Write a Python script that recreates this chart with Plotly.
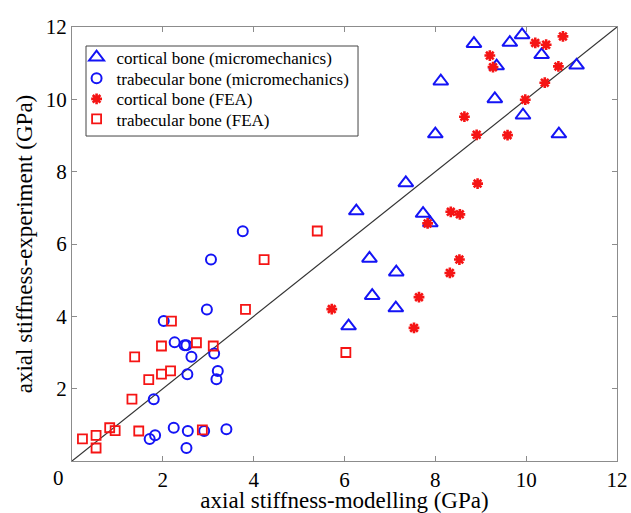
import plotly.graph_objects as go

# cortical bone (micromechanics)
cort_mm_x = [7.35, 6.26, 7.73, 7.89, 6.55, 7.14, 6.61, 7.13, 6.09,
             9.91, 8.85, 9.64, 10.34, 9.35, 11.11, 8.12, 9.31, 9.93, 8.00, 10.72]
cort_mm_y = [7.69, 6.91, 6.84, 6.58, 5.60, 5.22, 4.57, 4.23, 3.73,
             11.78, 11.54, 11.57, 11.23, 10.92, 10.94, 10.50, 10.01, 9.56, 9.04, 9.04]

# trabecular bone (micromechanics)
trab_mm_x = [2.97, 2.02, 2.26, 2.48, 2.52, 2.63, 3.13, 3.21, 3.18, 2.54,
             1.80, 2.24, 2.55, 2.91, 3.40, 1.83, 1.71, 2.52, 3.76, 3.06]
trab_mm_y = [4.19, 3.87, 3.28, 3.20, 3.20, 2.88, 2.97, 2.49, 2.26, 2.40,
             1.71, 0.92, 0.83, 0.83, 0.88, 0.71, 0.61, 0.36, 6.35, 5.57]

# cortical bone (FEA)
cort_fea_x = [8.93, 8.34, 8.54, 7.83, 8.53, 8.32, 7.64, 5.72, 7.53,
              10.81, 10.20, 10.44, 9.20, 9.27, 10.71, 10.41, 9.98, 8.64, 8.91, 9.59]
cort_fea_y = [7.67, 6.89, 6.82, 6.57, 5.57, 5.20, 4.53, 4.20, 3.68,
              11.74, 11.56, 11.51, 11.21, 10.89, 10.91, 10.46, 9.99, 9.52, 9.02, 9.01]

# trabecular bone (FEA)
trab_fea_x = [3.82, 2.19, 1.97, 2.74, 3.11, 1.38, 2.17, 1.97, 1.69, 1.32,
              0.83, 0.95, 0.53, 0.23, 0.53, 1.47, 2.87, 5.40, 4.23, 6.03]
trab_fea_y = [4.19, 3.87, 3.18, 3.27, 3.18, 2.88, 2.49, 2.40, 2.25, 1.71,
              0.92, 0.84, 0.71, 0.61, 0.36, 0.83, 0.86, 6.36, 5.57, 3.00]

line_xy = [0, 12]
x_ticks = [0, 2, 4, 6, 8, 10, 12]
x_tick_labels = ["", "2", "4", "6", "8", "10", "12"]
origin_label = "0"
y_ticks = [2, 4, 6, 8, 10, 12]
y_tick_labels = ["2", "4", "6", "8", "10", "12"]

BLUE = "#1414f5"
RED = "#f51414"
FONT = "Liberation Serif"

fig = go.Figure()
fig.add_trace(go.Scatter(x=line_xy, y=line_xy, mode="lines",
                         line=dict(color="#333333", width=1.2),
                         showlegend=False, hoverinfo="skip"))
fig.add_trace(go.Scatter(x=cort_mm_x, y=cort_mm_y, mode="markers",
                         name="cortical bone (micromechanics)", legend="legend",
                         marker=dict(symbol="triangle-up-open", size=13,
                                     color=BLUE, line=dict(width=2, color=BLUE))))
fig.add_trace(go.Scatter(x=trab_mm_x, y=trab_mm_y, mode="markers",
                         name="trabecular bone (micromechanics)", legend="legend2",
                         marker=dict(symbol="circle-open", size=10,
                                     color=BLUE, line=dict(width=2, color=BLUE))))
fig.add_trace(go.Scatter(x=cort_fea_x, y=cort_fea_y, mode="markers",
                         name="cortical bone (FEA)", legend="legend3",
                         marker=dict(symbol="asterisk-open", size=9,
                                     color=RED, line=dict(width=2.6, color=RED))))
fig.add_trace(go.Scatter(x=trab_fea_x, y=trab_fea_y, mode="markers",
                         name="trabecular bone (FEA)", legend="legend4",
                         marker=dict(symbol="square-open", size=9,
                                     color=RED, line=dict(width=1.8, color=RED))))

axis_common = dict(showgrid=False, zeroline=False, showline=True, mirror="ticks",
                   linecolor="#8c8c8c", linewidth=1, ticks="inside", ticklen=5,
                   tickcolor="#8c8c8c", automargin=False,
                   tickfont=dict(family=FONT, size=21, color="black"))


def leg(yc):
    return dict(x=0.0084, y=yc, xanchor="left", yanchor="middle",
                bgcolor="rgba(0,0,0,0)", borderwidth=0,
                font=dict(family=FONT, size=17, color="black"), itemwidth=30)


fig.update_layout(
    width=631, height=513,
    margin=dict(l=72, r=14, t=27, b=52, autoexpand=False),
    paper_bgcolor="white", plot_bgcolor="white",
    xaxis=dict(range=[0, 12], tickvals=x_ticks, ticktext=x_tick_labels,
               title=dict(text="axial stiffness-modelling (GPa)",
                          font=dict(family=FONT, size=23, color="black"), standoff=2),
               **axis_common),
    yaxis=dict(range=[0, 12], tickvals=y_ticks, ticktext=y_tick_labels,
               title=dict(text="axial stiffness-experiment (GPa)",
                          font=dict(family=FONT, size=23, color="black"), standoff=6),
               **axis_common),
    legend=leg(0.9293),
    legend2=leg(0.8809),
    legend3=leg(0.8334),
    legend4=leg(0.7873),
    shapes=[dict(type="rect", xref="paper", yref="paper",
                 x0=0.0257, x1=0.5248, y0=0.7488, y1=0.9562,
                 line=dict(color="#444444", width=1), fillcolor="white", layer="below")],
    annotations=[dict(text=origin_label, x=0, xref="x", y=0, yref="paper",
                      xanchor="center", yanchor="top", xshift=-14, yshift=-3,
                      showarrow=False, font=dict(family=FONT, size=21, color="black"))],
)

fig.write_html("out.html")
